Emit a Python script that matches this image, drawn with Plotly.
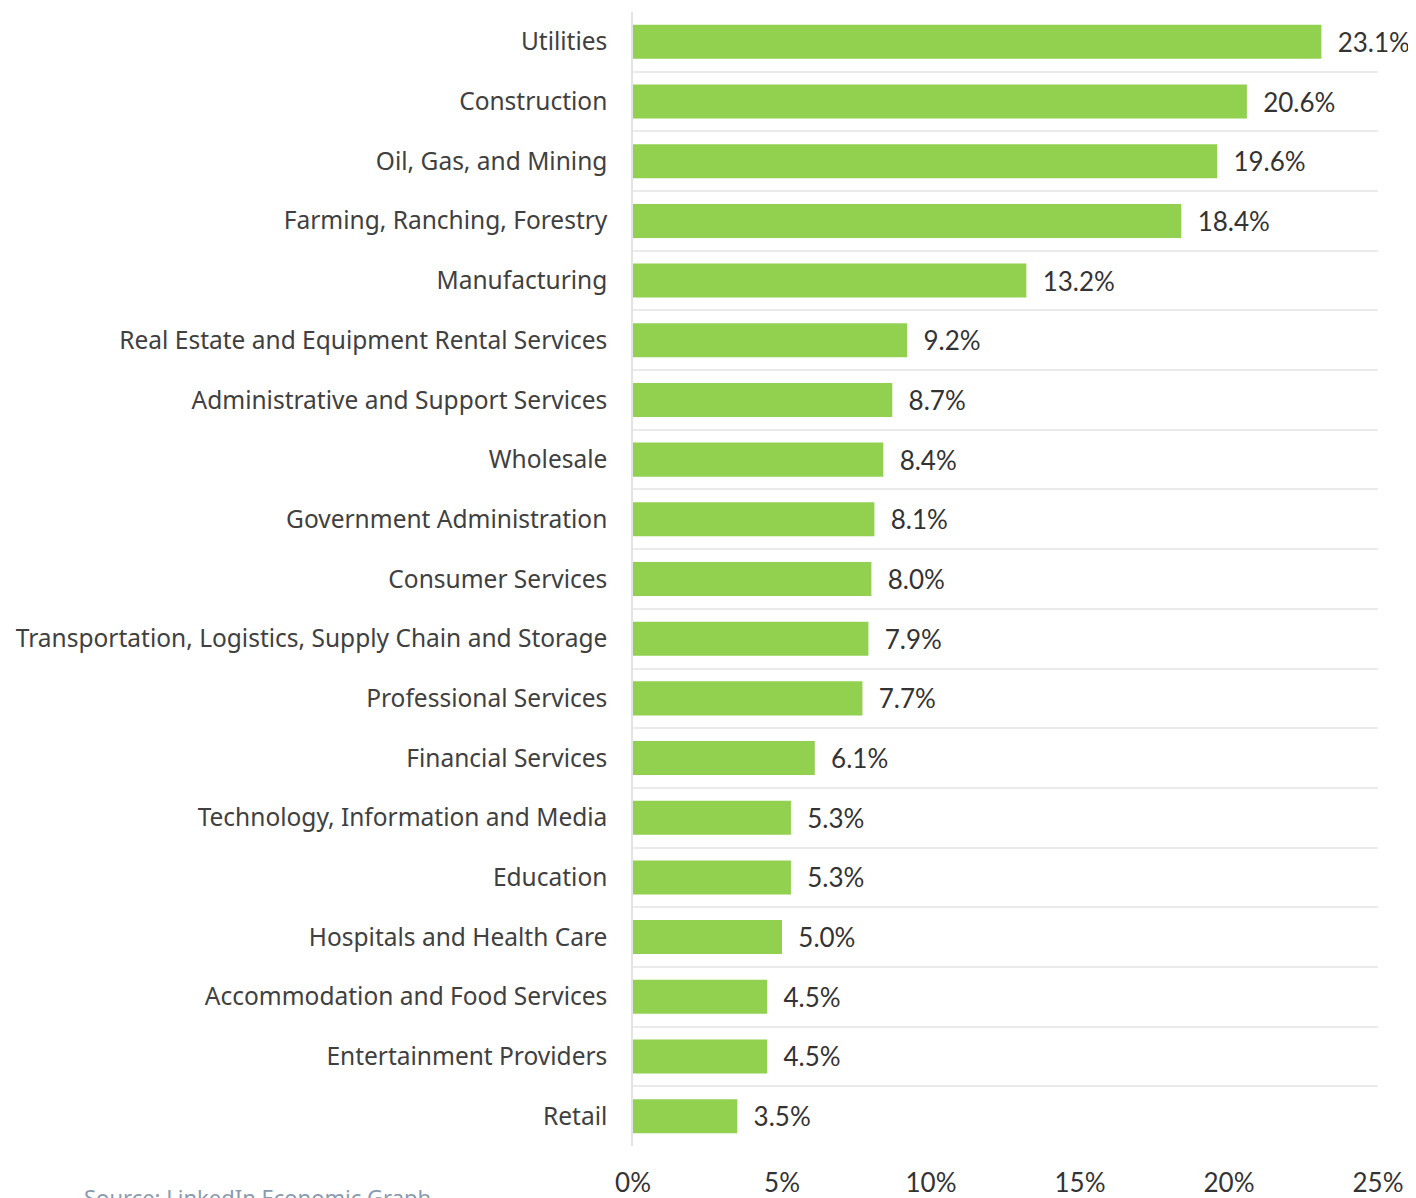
import plotly.graph_objects as go

# industries, top to bottom as shown
industries = [
    "Utilities",
    "Construction",
    "Oil, Gas, and Mining",
    "Farming, Ranching, Forestry",
    "Manufacturing",
    "Real Estate and Equipment Rental Services",
    "Administrative and Support Services",
    "Wholesale",
    "Government Administration",
    "Consumer Services",
    "Transportation, Logistics, Supply Chain and Storage",
    "Professional Services",
    "Financial Services",
    "Technology, Information and Media",
    "Education",
    "Hospitals and Health Care",
    "Accommodation and Food Services",
    "Entertainment Providers",
    "Retail",
]
shares = [23.1, 20.6, 19.6, 18.4, 13.2, 9.2, 8.7, 8.4, 8.1, 8.0,
          7.9, 7.7, 6.1, 5.3, 5.3, 5.0, 4.5, 4.5, 3.5]
x_ticks = [0, 5, 10, 15, 20, 25]
x_tick_labels = ["0%", "5%", "10%", "15%", "20%", "25%"]
source_note = "Source: LinkedIn Economic Graph"

fig = go.Figure()
fig.add_bar(
    y=industries,
    x=shares,
    orientation="h",
    marker=dict(color="#92D050", line=dict(width=0)),
    text=[f"\u00a0\u00a0{v:.1f}%" for v in shares],
    textposition="outside",
    textfont=dict(family="Lato", size=26, color="#333333"),
    constraintext="none",
    cliponaxis=False,
    hoverinfo="skip",
)

fig.update_yaxes(
    type="category",
    categoryorder="array",
    categoryarray=industries[::-1],
    tickson="boundaries",
    automargin=False,
    showgrid=True,
    gridcolor="#ebebeb",
    gridwidth=1.5,
    showline=True,
    linecolor="#e3e3e3",
    linewidth=1.5,
    ticks="",
    ticklabelstandoff=19,
    tickfont=dict(family="Noto Sans", size=24.5, color="#404040"),
)
fig.update_xaxes(
    range=[0, 25],
    tickvals=x_ticks,
    ticktext=x_tick_labels,
    automargin=False,
    showgrid=False,
    zeroline=False,
    ticks="outside",
    ticklen=14,
    tickcolor="rgba(0,0,0,0)",
    tickfont=dict(family="Lato", size=26, color="#333333"),
)

fig.add_annotation(
    text=source_note,
    xref="paper", yref="paper",
    x=-0.739, y=-0.030,
    xanchor="left", yanchor="top",
    showarrow=False,
    font=dict(family="Noto Sans", size=22, color="#8a9bb0"),
)

# the page body adds an 8px offset, so the figure is 8px smaller
fig.update_layout(
    width=1408,
    height=1190,
    bargap=0.43,
    showlegend=False,
    paper_bgcolor="white",
    plot_bgcolor="white",
    margin=dict(l=625, r=38, t=4, b=52, autoexpand=False),
)

fig.write_html("out.html")
